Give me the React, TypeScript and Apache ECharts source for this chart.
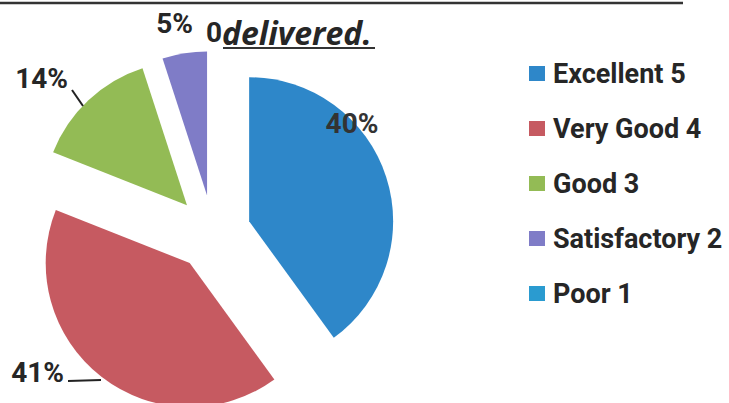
import React, { useEffect, useRef } from "react";
import * as echarts from "echarts";

const categories = ["Excellent 5", "Very Good 4", "Good 3", "Satisfactory 2", "Poor 1"];
const values = [40, 41, 14, 5, 0];
const colors = ["#2E87C9", "#C65A61", "#93BB55", "#7F7CC7", "#2A9BD0"];
const titleText = "delivered.";

// label placement (layout only): x, y (middle), align
const labelPlaces: [number, number, string][] = [
  [352, 123, "center"],
  [64, 372, "right"],
  [68, 78, "right"],
  [193, 23, "right"],
  [206, 32, "left"],
];
// leader lines (layout only), null = none
const leaderLines: (number[] | null)[] = [
  null,
  [68, 381, 101, 380],
  [72, 90, 83, 106],
  null,
  null,
];

export default function App() {
  const ref = useRef<HTMLDivElement>(null);
  useEffect(() => {
    document.body.style.margin = "0";
    const chart = echarts.init(ref.current!, null, { renderer: "svg" });
    const font = "Roboto, 'Noto Sans', sans-serif";
    const total = values.reduce((a, b) => a + b, 0);
    const labelTexts = values.map((v) => {
      const p = Math.round((v / total) * 100);
      return v === 0 ? String(p) : p + "%";
    });
    const labelGraphics: any[] = [];
    values.forEach((_, i) => {
      const pl = labelPlaces[i];
      labelGraphics.push({
        type: "text",
        x: pl[0],
        y: pl[1],
        z: 50,
        style: {
          text: labelTexts[i],
          font: `bold 28px ${font}`,
          fill: i === 0 ? "#333333" : "#262626",
          textAlign: pl[2],
          textVerticalAlign: "middle",
        },
      });
      const ll = leaderLines[i];
      if (ll) {
        labelGraphics.push({
          type: "line",
          z: 50,
          shape: { x1: ll[0], y1: ll[1], x2: ll[2], y2: ll[3] },
          style: { stroke: "#222", lineWidth: 2 },
        });
      }
    });
    chart.setOption({
      animation: false,
      backgroundColor: "#ffffff",
      legend: {
        orient: "vertical",
        left: 524,
        top: 55,
        itemWidth: 16,
        itemHeight: 15,
        itemGap: 28,
        icon: "rect",
        data: categories,
        textStyle: { fontFamily: font, fontWeight: "bold", fontSize: 27, color: "#262626", padding: [0, 0, 0, 3] },
      },
      graphic: [
        { type: "line", shape: { x1: 0, y1: 3, x2: 683, y2: 3 }, style: { stroke: "#333", lineWidth: 2.5 } },
        ...labelGraphics,
        {
          type: "text",
          x: 222,
          y: 32,
          z: 100,
          style: {
            text: titleText,
            font: `italic bold 32px 'Open Sans', sans-serif`,
            fill: "#262626",
            textVerticalAlign: "middle",
          },
        },
        { type: "line", z: 100, shape: { x1: 223, y1: 48, x2: 375, y2: 48 }, style: { stroke: "#333", lineWidth: 2 } },
      ],
      series: [
        {
          type: "pie",
          center: [213, 233],
          radius: 144,
          selectedMode: "multiple",
          selectedOffset: 38,
          clockwise: true,
          startAngle: 90,
          label: { show: false },
          labelLine: { show: false },
          data: categories.map((name, i) => ({
            name,
            value: values[i],
            selected: true,
            itemStyle: { color: colors[i] },
          })),
          emphasis: { disabled: true },
        },
      ],
    });
    return () => chart.dispose();
  }, []);
  return <div ref={ref} style={{ width: 729, height: 403 }} />;
}
